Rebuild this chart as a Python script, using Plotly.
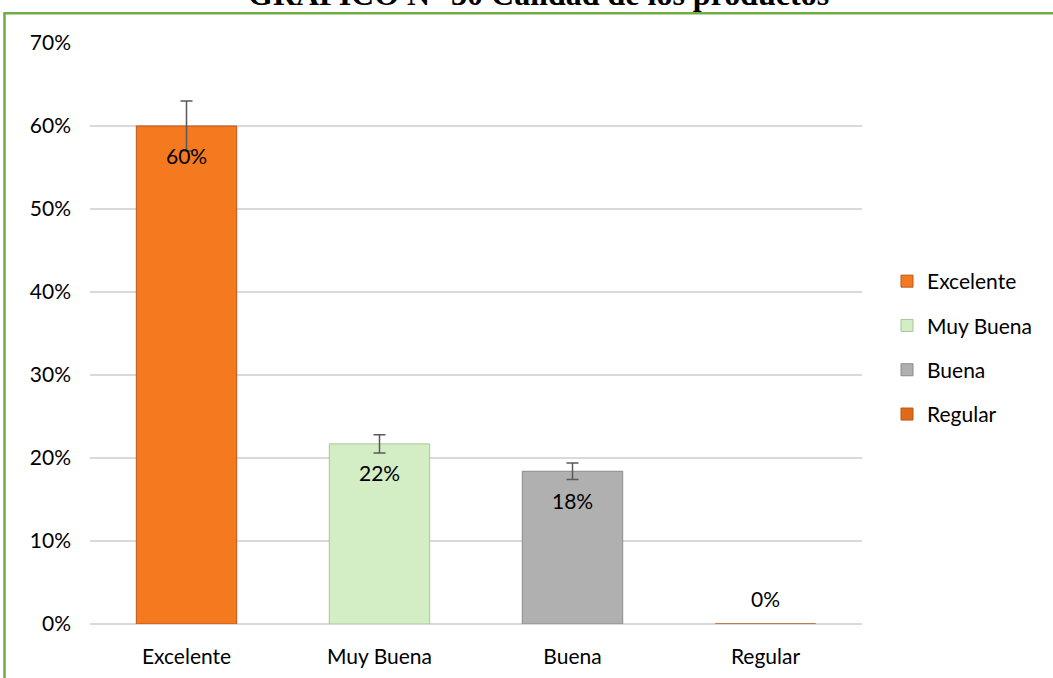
import plotly.graph_objects as go

categories = ["Excelente", "Muy Buena", "Buena", "Regular"]
values = [0.60, 0.217, 0.184, 0.0]
errors = [0.03, 0.011, 0.010, 0.0]
labels = ["60%", "22%", "18%", "0%"]
colors = ["#F5791E", "#D3EDC5", "#B0B0B0", "#E06A1A"]
line_colors = ["#B8561A", "#A7C596", "#8A8A8A", "#B8561A"]
title_text = "GRAFICO N° 30 Calidad de los productos"

FONT = "Lato"
FS = 21
fig = go.Figure()
for i, cat in enumerate(categories):
    fig.add_trace(go.Bar(
        x=[cat], y=[values[i]], name=cat,
        legendgroup=cat,
        marker=dict(color=colors[i], line=dict(color=line_colors[i], width=1)),
        error_y=dict(type="data", array=[errors[i]], visible=errors[i] > 0,
                     color="#595959", thickness=1.5, width=6),
        width=0.52,
    ))

L, R, T, B = 90, 862, 43, 624
def px(xp):
    return (xp - L) / (R - L)
def py(yp):
    return (B - yp) / (B - T)

annotations = []
for i, cat in enumerate(categories):
    annotations.append(dict(
        x=cat, y=values[i], xref="x", yref="y", text=labels[i], showarrow=False,
        yshift=(-29 if values[i] > 0 else 26),
        font=dict(family=FONT, size=FS, color="#000000"),
    ))
annotations.append(dict(
    x=px(538), y=py(-6), xref="paper", yref="paper", xanchor="center", yanchor="middle",
    text=f"<b>{title_text}</b>", showarrow=False,
    font=dict(family="Liberation Serif", size=32, color="#000000"),
))

# frame lines (green)
shapes = [
    dict(type="line", xref="paper", yref="paper", x0=px(4.5), x1=px(4.5), y0=py(13.3), y1=py(690),
         line=dict(color="#70AD47", width=2.5)),
    dict(type="line", xref="paper", yref="paper", x0=px(3.3), x1=px(1060), y0=py(13.3), y1=py(13.3),
         line=dict(color="#70AD47", width=2.5)),
]

fig.update_layout(
    width=1053, height=678,
    margin=dict(l=L, r=1053 - R, t=T, b=678 - B, autoexpand=False),
    paper_bgcolor="white", plot_bgcolor="white",
    barmode="overlay",
    showlegend=True,
    legend=dict(x=px(887), y=py(348), xanchor="left", yanchor="middle",
                font=dict(family=FONT, size=FS, color="#000000"),
                tracegroupgap=14, itemwidth=30, bgcolor="rgba(0,0,0,0)"),
    annotations=annotations,
    shapes=shapes,
    xaxis=dict(showgrid=False, showline=False, ticks="", ticklabelstandoff=18,
               tickfont=dict(family=FONT, size=FS, color="#000000"), fixedrange=True),
    yaxis=dict(range=[0, 0.7], dtick=0.1, tickformat=".0%", showgrid=True,
               gridcolor="#D9D9D9", gridwidth=1.5, zeroline=True, zerolinecolor="#D9D9D9",
               zerolinewidth=1.5, showline=False, ticks="", ticklabelstandoff=18,
               tickfont=dict(family=FONT, size=FS, color="#000000")),
)

fig.write_html("out.html", config={"displayModeBar": False},
               post_script="document.body.style.margin='0';document.body.style.overflow='hidden';")
